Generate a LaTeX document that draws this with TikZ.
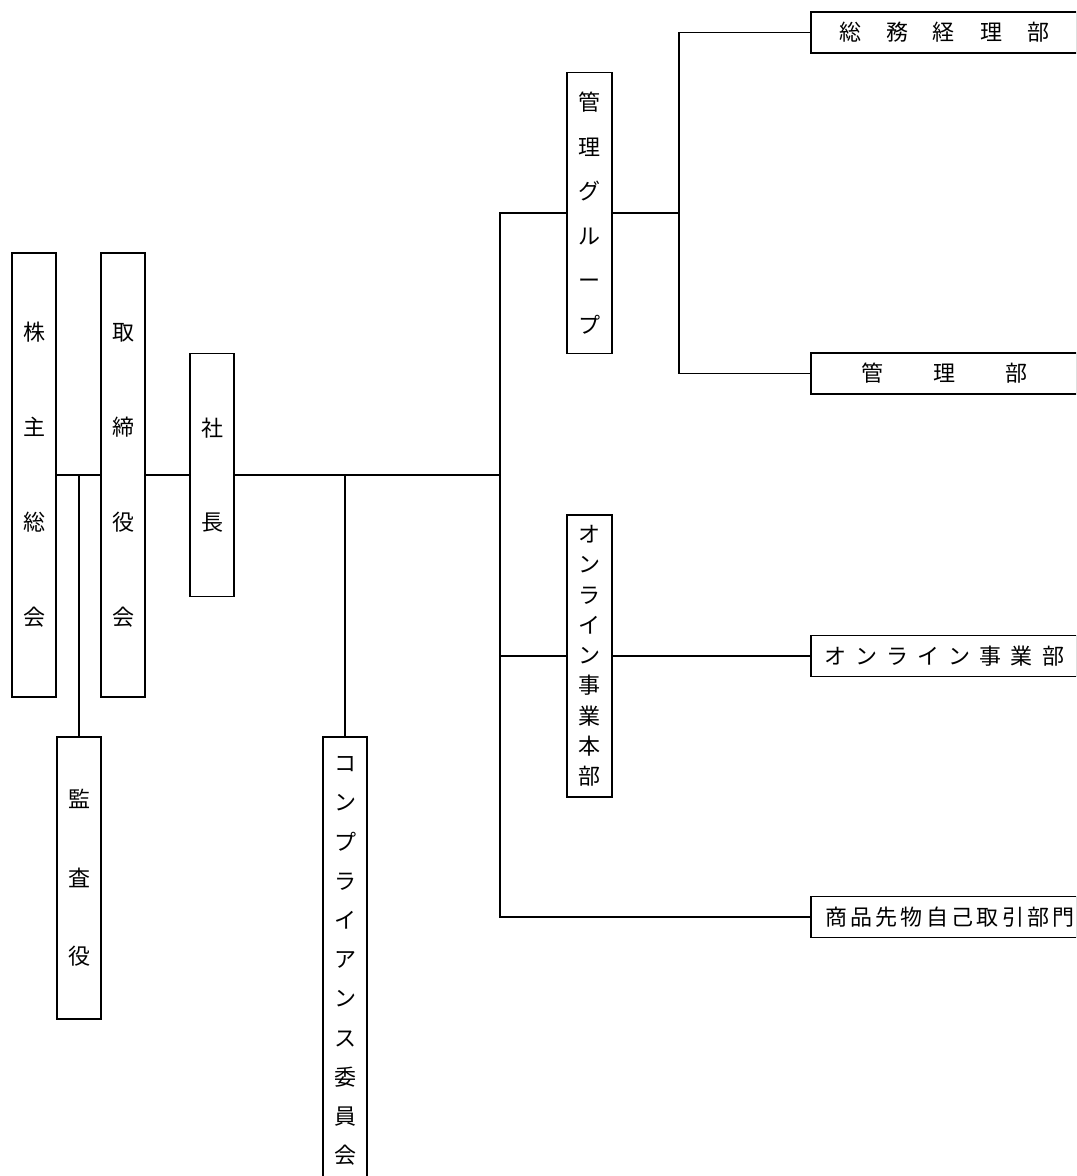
\documentclass[tikz,border=0pt]{standalone}
\usepackage{fontspec}
\setmainfont{Noto Sans CJK JP}

\begin{document}
\begin{tikzpicture}[x=0.75pt,y=-0.75pt,line width=1.4pt,
  box/.style={draw,rectangle,inner sep=0pt,align=center},
  vbox/.style n args={3}{box,minimum width=#1,minimum height=#2,font=\fontsize{16.5}{#3}\selectfont},
  hbox/.style={box,minimum width=199.5pt,minimum height=30.75pt,font=\fontsize{16.5}{20}\selectfont}]
\clip(0,0)rectangle(1076,1176);
\node[vbox={33pt}{333pt}{71.25pt}](kabu)at(34,475){株\\主\\総\\会};
\node[vbox={33pt}{333pt}{71.25pt}](tori)at(123,475){取\\締\\役\\会};
\node[vbox={33pt}{182.25pt}{70.5pt}](shacho)at(212,475){社\\長};
\node[vbox={33pt}{211.5pt}{58.9pt}](kansa)at(79,878){監\\査\\役};
\node[vbox={33pt}{336pt}{29.4pt}](comp)at(345,961){コ\\ン\\プ\\ラ\\イ\\ア\\ン\\ス\\委\\員\\会};
\node[vbox={33.75pt}{210.75pt}{33.45pt}](kgrp)at(589.5,213){管\\理\\グ\\ル\\ー\\プ};
\node[vbox={33.75pt}{211.5pt}{22.7pt}](onlhq)at(589.5,656){オ\\ン\\ラ\\イ\\ン\\事\\業\\本\\部};
\node[hbox](somu)at(944,32.5){\makebox[157.5pt][s]{総 務 経 理 部}};
\node[hbox](kanri)at(944,373.5){\makebox[124.5pt][s]{管 理 部}};
\node[hbox](onlbu)at(944,656){\makebox[180pt][s]{オ ン ラ イ ン 事 業 部}};
\node[hbox](shohin)at(944,917){\makebox[178.5pt][s]{商 品 先 物 自 己 取 引 部 門}};
\coordinate(hub)at(500,475);
\coordinate(split)at(679,213);
\draw(kabu.east)--(tori.west);
\draw(tori.east)--(shacho.west);
\draw(kansa.north)--(kansa.north|-kabu.east);
\draw(shacho.east)--(hub);
\draw(comp.north)--(comp.north|-hub);
\draw(kgrp.west)-|(hub)|-(shohin.west);
\draw(onlhq.west)--(onlhq.west-|hub);
\draw(onlhq.east)--(onlbu.west);
\draw(kgrp.east)--(split);
\draw(somu.west)-|(split)|-(kanri.west);
\end{tikzpicture}
\end{document}
